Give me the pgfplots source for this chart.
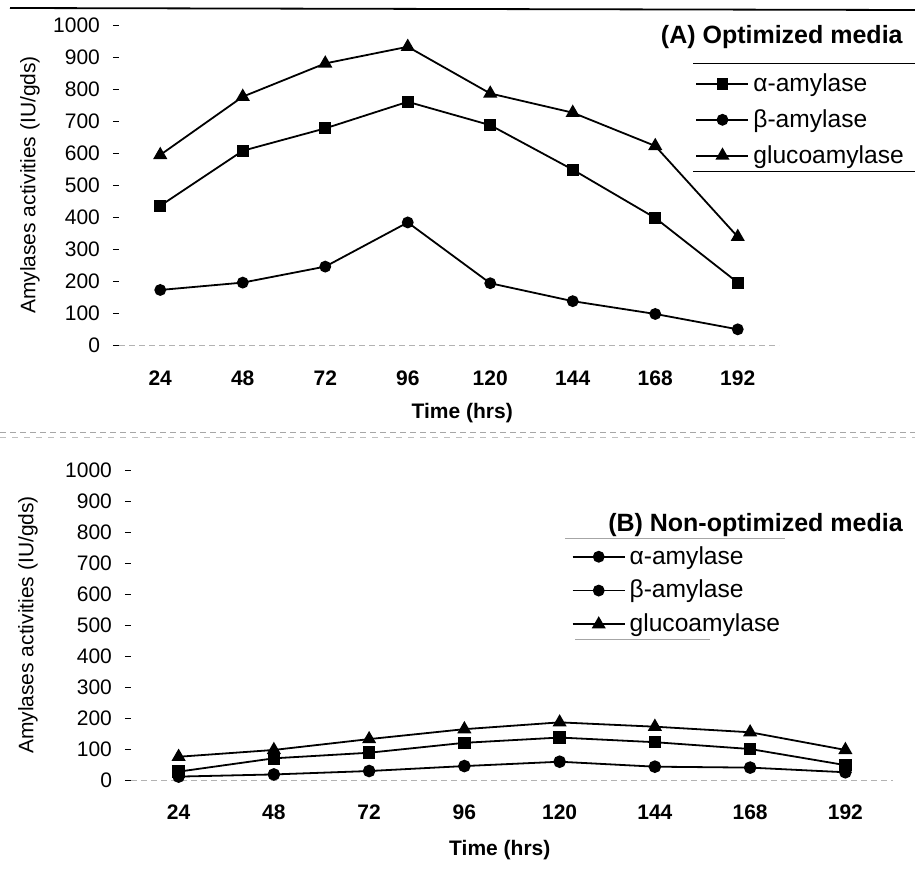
\documentclass[border=0pt]{standalone}
\usepackage{fontspec}
\setmainfont{Liberation Sans}
\usepackage{pgfplots}
\usepackage{pgfplotstable}
\pgfplotsset{compat=1.18}

% time (hrs), alpha-amylase, beta-amylase, glucoamylase
\pgfplotstableread{
t alpha beta gluco
24 435 172 594
48 607 195 776
72 677 245 880
96 760 383 932
120 687 193 786
144 548 137 726
168 397 97 622
192 195 49 338
}\optimized

\pgfplotstableread{
t alpha beta gluco
24 27 11 75
48 70 18 97
72 88 29 132
96 120 45 164
120 137 59 186
144 122 43 172
168 100 40 154
192 48 25 97
}\nonoptimized

\pgfplotsset{
  amyl/.style={
    scale only axis, clip=false,
    xmin=12, xmax=204, ymin=0, ymax=1000,
    xtick={24,48,...,192}, ytick={0,100,...,1000},
    axis x line=bottom, axis y line=left,
    axis line style={-},
    y axis line style={draw=none},
    x axis line style={gray!60, densely dashed, thin},
    x tick style={draw=none},
    y tick style={black, thin},
    tick align=outside, major tick length=3pt,
    /pgf/number format/assume math mode=true,
    /pgf/number format/1000 sep={},
    ticklabel style={font=\fontsize{10.5}{12}\selectfont},
    xticklabel style={font=\fontsize{10.5}{12}\selectfont\bfseries, yshift=-6.5pt},
    yticklabel style={xshift=-3pt},
    label style={font=\fontsize{10.5}{12}\selectfont},
    xlabel={\bfseries Time (hrs)},
    ylabel={Amylases activities (IU/gds)},
    ylabel style={at={(axis description cs:0,0.5)}, anchor=center},
    legend cell align=left,
    legend style={draw=none, fill=none, anchor=north west, inner sep=0pt,
      font=\fontsize{12.3}{14}\selectfont, row sep=3.5pt,
      nodes={inner sep=2pt}},
    legend image code/.code={
      \draw[mark repeat=2, mark phase=2] plot coordinates {(0pt,0pt) (13pt,0pt) (26pt,0pt)};},
    every axis plot/.append style={black, line width=0.9pt, mark options={solid}},
  },
}

\begin{document}
\begin{tikzpicture}
\useasboundingbox (0,0) rectangle (457.5pt,-434pt);
\draw[line width=0.9pt] (5pt,-4pt) -- (457.5pt,-5pt);
\draw[gray!70, densely dashed, thin] (0pt,-216pt) -- (457.5pt,-216pt);
\draw[gray!50, dashed, thin] (0pt,-218.5pt) -- (457.5pt,-218.5pt);

\begin{axis}[amyl,
  at={(59.5pt,-172.5pt)}, anchor=south west,
  width=330pt, height=160pt,
  xlabel style={at={(axis description cs:0.52,0)}, anchor=center, yshift=-34pt},
  ylabel style={yshift=44.5pt},
  legend style={at={(axis description cs:0.873,0.862)}},
]
\addplot[mark=square*, mark size=2.5pt] table[x=t, y=alpha] {\optimized};
\addlegendentry{α-amylase}
\addplot[mark=*, mark size=2.5pt] table[x=t, y=beta] {\optimized};
\addlegendentry{β-amylase}
\addplot[mark=triangle*, mark size=3.2pt] table[x=t, y=gluco] {\optimized};
\addlegendentry{glucoamylase}
\node[anchor=east, font=\fontsize{12.5}{14}\selectfont\bfseries]
  at (axis description cs:1.198,0.9625) {(A) Optimized media};
\draw[thin] (axis description cs:0.870,0.881) -- (axis description cs:1.206,0.881);
\draw[thin] (axis description cs:0.870,0.544) -- (axis description cs:1.206,0.544);
\end{axis}

\begin{axis}[amyl,
  at={(65.5pt,-390pt)}, anchor=south west,
  width=381pt, height=155pt,
  xlabel style={at={(axis description cs:0.484,0)}, anchor=center, yshift=-35pt},
  ylabel style={yshift=51.5pt},
  xticklabel style={yshift=0.5pt},
  legend style={at={(axis description cs:0.578,0.768)}, row sep=2.5pt},
]
\addlegendimage{black, line width=0.9pt, mark=*, mark size=2.5pt}
\addlegendentry{α-amylase}
\addlegendimage{black, line width=0.9pt, mark=*, mark size=2.5pt}
\addlegendentry{β-amylase}
\addlegendimage{black, line width=0.9pt, mark=triangle*, mark size=3.2pt}
\addlegendentry{glucoamylase}
\addplot[forget plot, mark=square*, mark size=2.7pt] table[x=t, y=alpha] {\nonoptimized};
\addplot[forget plot, mark=*, mark size=2.7pt] table[x=t, y=beta] {\nonoptimized};
\addplot[forget plot, mark=triangle*, mark size=3.2pt] table[x=t, y=gluco] {\nonoptimized};
\node[anchor=east, font=\fontsize{12.5}{14}\selectfont\bfseries]
  at (axis description cs:1.022,0.822) {(B) Non-optimized media};
\draw[gray!70, thin] (axis description cs:0.570,0.781) -- (axis description cs:0.858,0.781);
\draw[gray!70, thin] (axis description cs:0.583,0.452) -- (axis description cs:0.760,0.452);
\end{axis}
\end{tikzpicture}
\end{document}
